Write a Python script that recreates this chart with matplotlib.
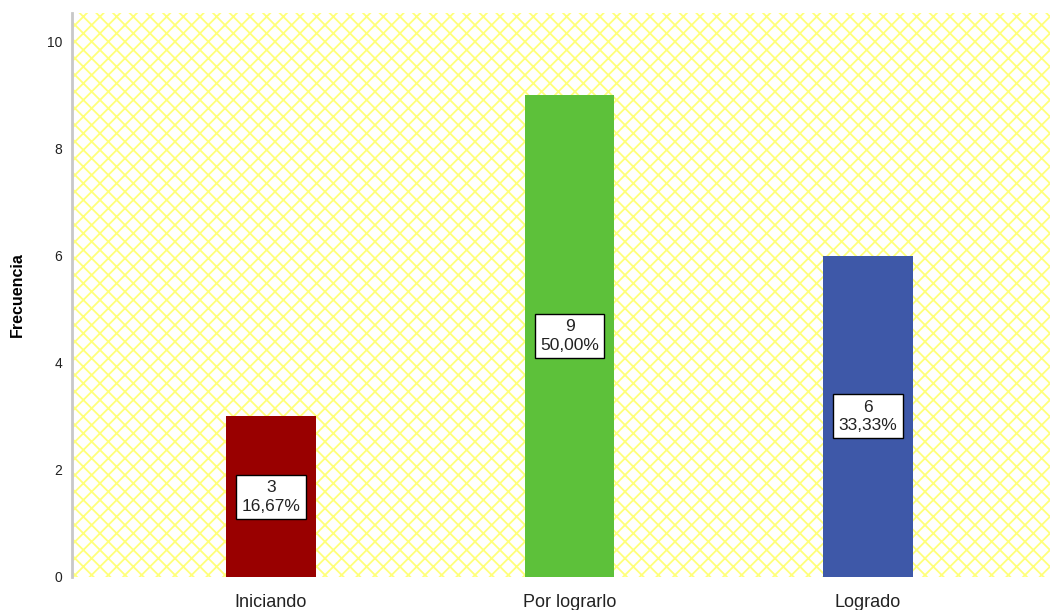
import matplotlib.pyplot as plt
import matplotlib.patches as mpatches

categorias = ['Iniciando', 'Por lograrlo', 'Logrado']
frecuencias = [3, 9, 6]
porcentajes = ['16,67%', '50,00%', '33,33%']
colores = ['#990000', '#5DC13A', '#3E58A8']

plt.rcParams['font.family'] = ['Liberation Sans', 'DejaVu Sans']
plt.rcParams['hatch.linewidth'] = 1.3
plt.rcParams['hatch.color'] = '#FFFF7A'

fig = plt.figure(figsize=(10.5, 6.1), dpi=100)
ax = fig.add_axes([72 / 1050, 1 - 577 / 610, 978 / 1050, (577 - 13) / 610])

# fondo rayado amarillo
fondo = mpatches.Rectangle((0, 0), 1, 1, transform=ax.transAxes, facecolor='white',
                           edgecolor='#FFFF7A', hatch='xx', linewidth=0, zorder=0)
ax.add_patch(fondo)

x = range(len(categorias))
ax.bar(x, frecuencias, width=0.30, color=colores, zorder=2)

for xi, f, p in zip(x, frecuencias, porcentajes):
    ax.text(xi, f / 2, f'{f}\n{p}', ha='center', va='center', fontsize=12.5,
            linespacing=1.3, zorder=3, color='#222222',
            bbox=dict(boxstyle='square,pad=0.3', facecolor='white', edgecolor='black', linewidth=1))

ax.set_xlim(-0.667, 2.61)
ax.set_ylim(0, 10.54)
ax.set_yticks([0, 2, 4, 6, 8, 10])
ax.set_xticks(list(x))
ax.set_xticklabels(categorias, fontsize=13, color='#222222')
ax.tick_params(axis='y', labelsize=10, length=0, pad=7, labelcolor='#222222')
ax.tick_params(axis='x', length=0, pad=12)
ax.set_ylabel('Frecuencia', fontsize=11.5, fontweight='bold', labelpad=16)

for s in ['top', 'right', 'bottom']:
    ax.spines[s].set_visible(False)
ax.spines['left'].set_color('#C8C8C8')
ax.spines['left'].set_linewidth(2)

fig.savefig('out.png', dpi=100)
